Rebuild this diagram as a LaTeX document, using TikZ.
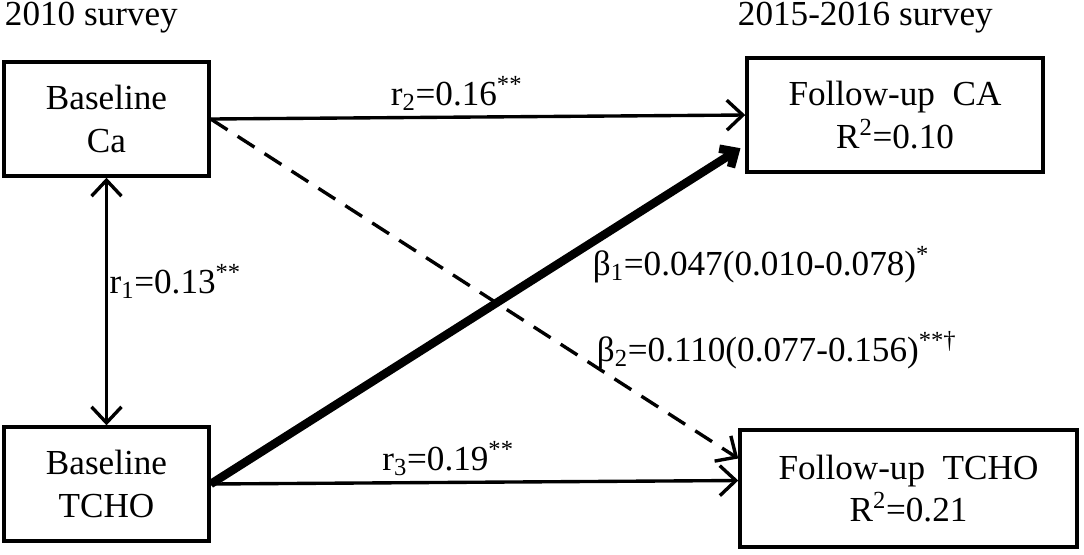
\documentclass[tikz,border=0pt]{standalone}
\usepackage{fontspec}
\setmainfont{Liberation Serif}
\usepackage{tikz}
\usetikzlibrary{arrows.meta,positioning}

\begin{document}
\begin{tikzpicture}[x=0.025cm,y=-0.025cm,font=\fontsize{25}{30}\selectfont,
box/.style={draw,line width=2.4pt,align=center,minimum height=2.85cm}]
\useasboundingbox (0,0) rectangle (1084,554);
\node[anchor=west] (E) at (0,18) {2010 survey};
\node[anchor=west] (F) at (733,18) {2015-2016 survey};
\node[box,minimum width=5.125cm] (A) at (106.5,119) {Baseline\\Ca};
\node[box,minimum width=5.125cm] (B) at (106.5,484) {Baseline\\TCHO};
\node[box,minimum width=7.4cm] (C) at (895,115) {Follow-up\ \ CA\\R\textsuperscript{2}=0.10};
\node[box,minimum width=8.425cm,minimum height=2.925cm] (D) at (908.5,488.5) {Follow-up\ \ TCHO\\R\textsuperscript{2}=0.21};
\node[anchor=west] (G) at (588,265) {β\textsubscript{1}=0.047(0.010-0.078)\textsuperscript{*}};
\node[anchor=west] (H) at (592,350) {β\textsubscript{2}=0.110(0.077-0.156)\textsuperscript{**\textdagger}};
\path[line width=2.4pt,->,>={Straight Barb[length=0.4cm,width=0.75cm]}]
(A.east) edge node [above,pos=0.46] {r\textsubscript{2}=0.16\textsuperscript{**}} (C.west)
(A.east) edge [dashed,dash pattern=on 0.5cm off 0.3cm] ([yshift=0.75cm]D.west)
(B.east) edge node [above,pos=0.45] {r\textsubscript{3}=0.19\textsuperscript{**}} ([yshift=0.2cm]D.west)
(A.south) edge [<->] node [right,pos=0.42,inner sep=1pt] {r\textsubscript{1}=0.13\textsuperscript{**}} (B.north);
\draw[line width=6pt,-{Straight Barb[length=0.3cm,width=0.55cm]}] (B.east) -- ([xshift=-0.12cm,yshift=-0.83cm]C.west);
\end{tikzpicture}
\end{document}
